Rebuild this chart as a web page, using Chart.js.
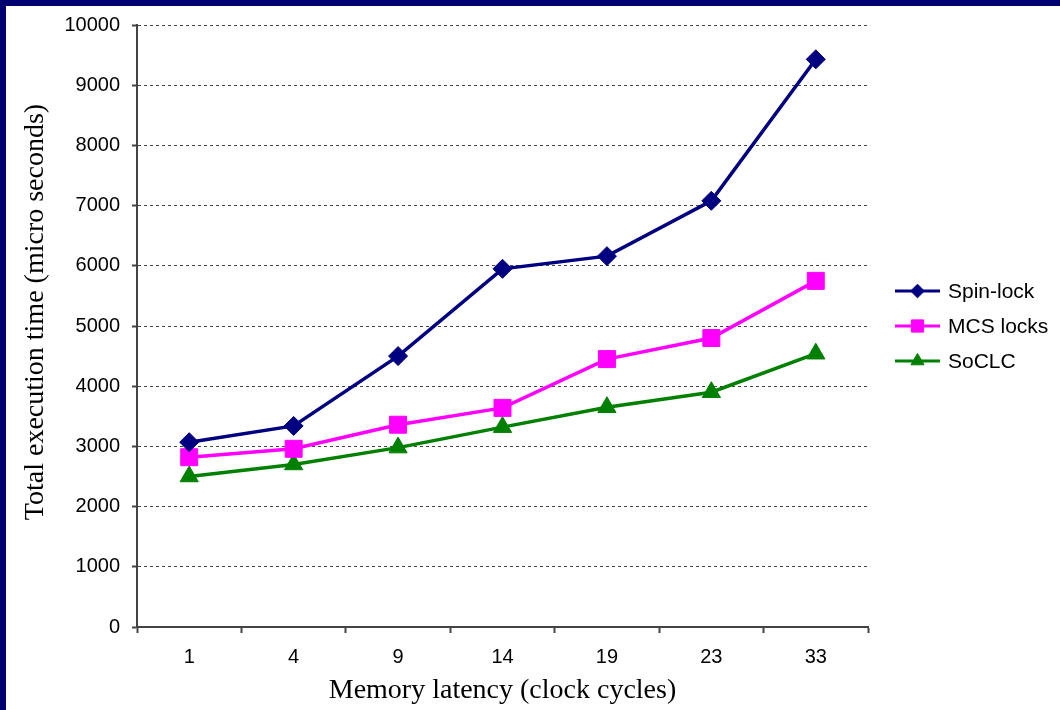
<!DOCTYPE html>
<html>
<head>
<meta charset="utf-8">
<script src="https://cdn.jsdelivr.net/npm/chart.js@4.4.1/dist/chart.umd.min.js"></script>
<style>
  html, body { margin: 0; padding: 0; background: #ffffff; }
  #wrap { width: 1060px; height: 710px; position: relative; }
</style>
</head>
<body>
<div id="wrap"><canvas id="c" width="1060" height="710"></canvas></div>
<script>
const categories = ['1', '4', '9', '14', '19', '23', '33'];
const seriesNames = ['Spin-lock', 'MCS locks', 'SoCLC'];
const spinLock = [3070, 3340, 4500, 5950, 6160, 7080, 9430];
const mcsLocks = [2820, 2960, 3360, 3640, 4450, 4800, 5750];
const soclc = [2500, 2700, 2980, 3320, 3650, 3900, 4540];
const yMin = 0, yMax = 10000, yStep = 1000;
const xTitle = 'Memory latency (clock cycles)';
const yTitle = 'Total execution time (micro seconds)';

const frame = {
  id: 'frame',
  beforeDraw(chart) {
    const ctx = chart.ctx;
    ctx.save();
    ctx.fillStyle = '#ffffff';
    ctx.fillRect(0, 0, chart.width, chart.height);
    ctx.fillStyle = '#00006e';
    ctx.fillRect(0, 0, chart.width, 6);
    ctx.fillRect(0, 0, 6, chart.height);
    ctx.restore();
  }
};

const sideLegend = {
  id: 'sideLegend',
  afterDraw(chart) {
    const ctx = chart.ctx;
    const a = chart.chartArea;
    const cy = (a.top + a.bottom) / 2;
    const x0 = a.right + 27;
    chart.data.datasets.forEach((ds, i) => {
      const y = cy + (i - 1) * 35;
      ctx.save();
      ctx.strokeStyle = ds.borderColor;
      ctx.lineWidth = 3;
      ctx.beginPath();
      ctx.moveTo(x0, y);
      ctx.lineTo(x0 + 45, y);
      ctx.stroke();
      ctx.fillStyle = ds.pointBackgroundColor;
      ctx.strokeStyle = ds.pointBorderColor;
      ctx.lineWidth = 1;
      Chart.helpers.drawPoint(ctx, { pointStyle: ds.pointStyle, radius: ds.pointRadius * 0.72, borderWidth: 1, rotation: 0 }, x0 + 22.5, y);
      ctx.fillStyle = '#000000';
      ctx.font = '21px "Liberation Sans", Arial, sans-serif';
      ctx.textBaseline = 'middle';
      ctx.textAlign = 'left';
      ctx.fillText(ds.label, x0 + 53, y + 1);
      ctx.restore();
    });
  }
};

const mk = (label, data, color, style, r) => ({
  label, data,
  borderColor: color, backgroundColor: color,
  pointBackgroundColor: color, pointBorderColor: color,
  pointStyle: style, pointRadius: r, pointHoverRadius: r,
  borderWidth: 3.5, pointBorderWidth: 1, tension: 0, fill: false
});

new Chart(document.getElementById('c'), {
  type: 'line',
  data: {
    labels: categories,
    datasets: [
      mk(seriesNames[0], spinLock, '#000080', 'rectRot', 9.5),
      mk(seriesNames[1], mcsLocks, '#ff00ff', 'rect', 12),
      mk(seriesNames[2], soclc, '#008000', 'triangle', 10.5)
    ]
  },
  plugins: [frame, sideLegend],
  options: {
    responsive: false,
    animation: false,
    devicePixelRatio: 1,
    layout: { padding: { left: 0, right: 192, top: 25, bottom: 0 } },
    plugins: { legend: { display: false }, tooltip: { enabled: false } },
    scales: {
      x: {
        type: 'category',
        offset: true,
        afterFit(s) { s.height = 83; },
        grid: { offset: true, drawOnChartArea: false, drawTicks: true, tickLength: 6, tickColor: '#444444', tickWidth: 2 },
        border: { display: true, color: '#444444', width: 2 },
        ticks: { color: '#000000', padding: 12, font: { family: '"Liberation Sans", Arial, sans-serif', size: 20 } },
        title: { display: true, text: xTitle, color: '#000000', padding: { top: 0, bottom: 3 }, font: { family: '"Liberation Serif", "Times New Roman", serif', size: 28 } }
      },
      y: {
        min: yMin, max: yMax,
        afterFit(s) { s.width = 137; },
        grid: { color: '#444444', lineWidth: 1, tickLength: 5, tickColor: '#444444', tickWidth: 2, tickBorderDash: [] },
        border: { display: true, color: '#444444', width: 2, dash: [3, 3] },
        ticks: { stepSize: yStep, color: '#000000', padding: 12, callback: v => String(v), font: { family: '"Liberation Sans", Arial, sans-serif', size: 20 } },
        title: { display: true, text: '    ' + yTitle, color: '#000000', padding: { top: 19, bottom: 0 }, font: { family: '"Liberation Serif", "Times New Roman", serif', size: 28 } }
      }
    }
  }
});
</script>
</body>
</html>
